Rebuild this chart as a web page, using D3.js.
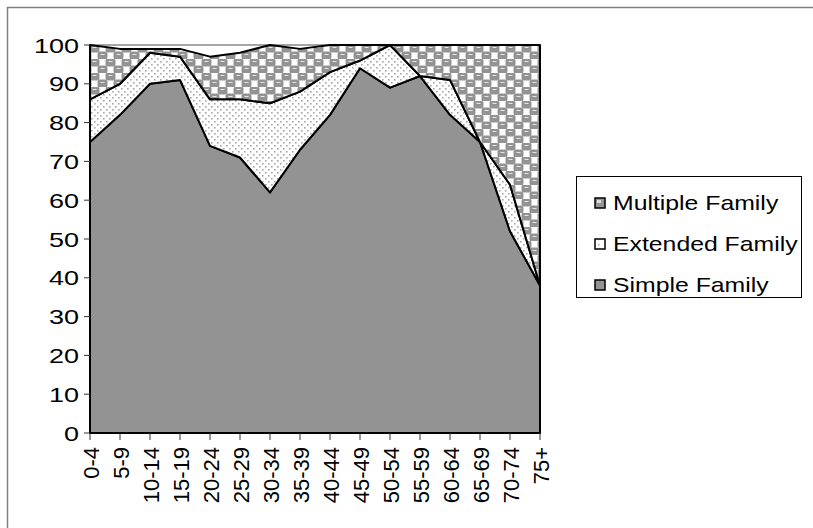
<!DOCTYPE html>
<html>
<head>
<meta charset="utf-8">
<script src="https://cdn.jsdelivr.net/npm/d3@7"></script>
<style>
  html, body { margin: 0; padding: 0; background: #fff; }
  svg { display: block; }
  text { font-family: "Liberation Sans", Arial, sans-serif; fill: #000; }
</style>
</head>
<body>
<svg id="chart" width="813" height="528"></svg>
<script>
// Household type by age group (percent of persons)
const ageGroups = ["0-4", "5-9", "10-14", "15-19", "20-24", "25-29", "30-34", "35-39",
                   "40-44", "45-49", "50-54", "55-59", "60-64", "65-69", "70-74", "75+"];
const simpleFamily   = [75, 82, 90, 91, 74, 71, 62, 73, 82, 94, 89, 92, 82, 75, 52, 38];
const extendedFamily = [11, 8, 8, 6, 12, 15, 23, 15, 11, 2, 11, 0, 9, 0, 12, 0];
const multipleFamily = [14, 9, 1, 2, 11, 12, 15, 11, 7, 4, 0, 8, 9, 25, 36, 62];
const seriesNames = ["Simple Family", "Extended Family", "Multiple Family"];
const yTicks = [0, 10, 20, 30, 40, 50, 60, 70, 80, 90, 100];

const rows = ageGroups.map((g, i) => ({
  group: g,
  "Simple Family": simpleFamily[i],
  "Extended Family": extendedFamily[i],
  "Multiple Family": multipleFamily[i]
}));

const svg = d3.select("#chart");
const plot = { left: 90, right: 540, top: 45, bottom: 433 };

// Fill patterns
const defs = svg.append("defs");
const checker = defs.append("pattern").attr("id", "pat-multiple")
  .attr("patternUnits", "userSpaceOnUse").attr("width", 16).attr("height", 14)
  .attr("x", plot.left).attr("y", plot.top);
checker.append("rect").attr("width", 16).attr("height", 14).attr("fill", "#fff");
[[0, 0], [8, 7], [-8, 7], [16, 0]].forEach(([cx, cy]) => {
  checker.append("rect").attr("x", cx - 0.5).attr("y", cy - 0.5).attr("width", 10).attr("height", 8)
    .attr("rx", 2.5).attr("fill", "#939393");
});
checker.append("rect").attr("x", 2.5).attr("y", 2).attr("width", 4).attr("height", 1).attr("fill", "#e6e6e6");
checker.append("rect").attr("x", 10.5).attr("y", 9).attr("width", 4).attr("height", 1).attr("fill", "#e6e6e6");

const dots = defs.append("pattern").attr("id", "pat-extended")
  .attr("patternUnits", "userSpaceOnUse").attr("width", 6).attr("height", 6)
  .attr("x", plot.left).attr("y", plot.top);
dots.append("rect").attr("width", 6).attr("height", 6).attr("fill", "#fff");
dots.append("rect").attr("x", 1).attr("y", 1).attr("width", 1.6).attr("height", 1.6).attr("fill", "#a8a8a8");
dots.append("rect").attr("x", 4).attr("y", 4).attr("width", 1.6).attr("height", 1.6).attr("fill", "#a8a8a8");

const fills = {
  "Simple Family": "#939393",
  "Extended Family": "url(#pat-extended)",
  "Multiple Family": "url(#pat-multiple)"
};

// Chart area frame
svg.append("path").attr("d", "M7.5,528 V7.5 H813")
  .attr("fill", "none").attr("stroke", "#808080").attr("stroke-width", 1.5);

const x = d3.scalePoint().domain(ageGroups).range([plot.left, plot.right]);
const y = d3.scaleLinear().domain([0, 100]).range([plot.bottom, plot.top]);

// Plot area top border
svg.append("line").attr("x1", plot.left).attr("x2", plot.right)
  .attr("y1", plot.top).attr("y2", plot.top)
  .attr("stroke", "#a6a6a6").attr("stroke-width", 2);

const stacked = d3.stack().keys(seriesNames)(rows);
const area = d3.area()
  .x(d => x(d.data.group))
  .y0(d => y(d[0]))
  .y1(d => y(d[1]));

svg.append("g").selectAll("path").data(stacked).join("path")
  .attr("d", area)
  .attr("fill", d => fills[d.key])
  .attr("stroke", "#000")
  .attr("stroke-width", 2)
  .attr("stroke-linejoin", "round");

// Y axis
const yAxis = svg.append("g").attr("transform", `translate(${plot.left},0)`);
yAxis.append("line").attr("x1", 0).attr("x2", 0).attr("y1", plot.top).attr("y2", plot.bottom)
  .attr("stroke", "#000").attr("stroke-width", 1.5);
yAxis.selectAll("line.tick").data(yTicks).join("line").attr("class", "tick")
  .attr("x1", -6).attr("x2", 0).attr("y1", d => y(d)).attr("y2", d => y(d))
  .attr("stroke", "#333").attr("stroke-width", 1);
yAxis.selectAll("text").data(yTicks).join("text")
  .attr("transform", d => `translate(-11,${y(d) + 7.5}) scale(1.35,1)`)
  .attr("text-anchor", "end")
  .attr("font-size", 20)
  .text(d => d);

// X axis
const xAxis = svg.append("g").attr("transform", `translate(0,${plot.bottom})`);
xAxis.append("line").attr("x1", plot.left).attr("x2", plot.right)
  .attr("stroke", "#000").attr("stroke-width", 1.5);
xAxis.selectAll("line.tick").data(ageGroups).join("line").attr("class", "tick")
  .attr("x1", d => x(d)).attr("x2", d => x(d)).attr("y1", 0).attr("y2", 7)
  .attr("stroke", "#333").attr("stroke-width", 1);
xAxis.selectAll("text").data(ageGroups).join("text")
  .attr("transform", d => `translate(${x(d) + 9},14) rotate(-90)`)
  .attr("text-anchor", "end")
  .attr("font-size", 22)
  .text(d => d);

// Legend
const legend = svg.append("g");
legend.append("rect").attr("x", 576.5).attr("y", 176.5).attr("width", 225).attr("height", 121)
  .attr("fill", "#fff").attr("stroke", "#000").attr("stroke-width", 1);
const legendItems = seriesNames.slice().reverse();
const legendSwatch = {
  "Multiple Family": "#959595",
  "Extended Family": "#fff",
  "Simple Family": "#939393"
};
legendItems.forEach((name, i) => {
  const cy = 203 + i * 41;
  legend.append("rect").attr("x", 595).attr("y", cy - 5).attr("width", 10).attr("height", 10)
    .attr("fill", legendSwatch[name]).attr("stroke", "#000").attr("stroke-width", 1.5);
  if (name === "Multiple Family") {
    legend.append("rect").attr("x", 597).attr("y", cy - 3).attr("width", 4).attr("height", 3).attr("fill", "#dcdcdc");
  }
  if (name === "Extended Family") {
    legend.append("rect").attr("x", 598).attr("y", cy).attr("width", 1.5).attr("height", 1.5).attr("fill", "#a8a8a8");
  }
  legend.append("text")
    .attr("transform", `translate(613,${cy + 7}) scale(1.24,1)`)
    .attr("font-size", 20)
    .text(name);
});
</script>
</body>
</html>
